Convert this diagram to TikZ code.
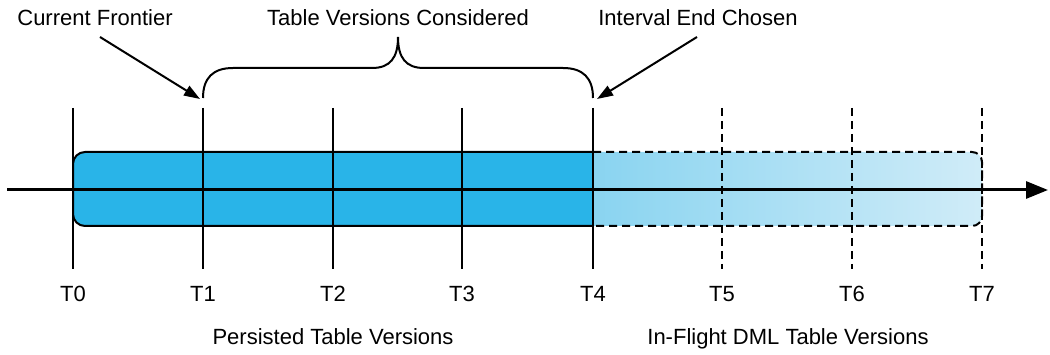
\documentclass[tikz,border=0pt]{standalone}
\usepackage{fontspec}
\setmainfont{Liberation Sans}
\usetikzlibrary{arrows.meta}
\definecolor{solidblue}{HTML}{29B4E8}
\definecolor{gradL}{HTML}{87D3F0}
\definecolor{gradR}{HTML}{D0ECF8}
\begin{document}
\begin{tikzpicture}[x=1pt,y=-1pt,
  lbl/.style={font=\fontsize{22}{26}\selectfont, inner sep=0pt, anchor=base},
  tickline/.style={line width=2pt},
  dtickline/.style={line width=2pt, dash pattern=on 8pt off 5pt},
  callout/.style={line width=2pt, -{Triangle[length=16pt,width=11pt]}},
  bracepath/.style={line width=2pt},
  axisline/.style={line width=3pt, -{Triangle[length=22pt,width=17pt]}}]
\useasboundingbox (0,0) rectangle (1050,355);

% in-flight (gradient) box
\shade[left color=gradL, right color=gradR, rounded corners=10pt] (580,152) rectangle (982,226);
% persisted box
\filldraw[fill=solidblue, draw=black, line width=2pt, rounded corners=12pt] (593,152) -- (73,152) -- (73,226) -- (593,226);
\draw[line width=2pt, dash pattern=on 8pt off 5pt, rounded corners=10pt] (593,152) -- (982,152) -- (982,226) -- (593,226);

% ticks
\foreach \i/\x in {0/73,1/203,2/333,3/462,4/593} {
  \coordinate (top\i) at (\x,108);
  \coordinate (bot\i) at (\x,269);
  \draw[tickline] (top\i) -- (bot\i);
  \node[lbl] (t\i) at (\x,302) {T\i};
}
\foreach \i/\x in {5/722,6/852,7/982} {
  \coordinate (top\i) at (\x,108);
  \coordinate (bot\i) at (\x,269);
  \draw[dtickline] (top\i) -- (bot\i);
  \node[lbl] (t\i) at (\x,302) {T\i};
}

% axis
\coordinate (axstart) at (7,190);
\coordinate (axend) at (1048,190);
\draw[axisline] (axstart) -- (axend);

% brace
\coordinate (brL) at (203,98);
\coordinate (brR) at (593,98);
\coordinate (brTip) at (398,37);
\draw[bracepath] (brL) .. controls (203,78) and (213,68) .. (233,68) -- (372,68)
  .. controls (390,68) and (398,58) .. (brTip)
  .. controls (398,58) and (406,68) .. (424,68) -- (563,68)
  .. controls (583,68) and (593,78) .. (brR);

% top labels
\node[lbl] (cf) at (95,26) {Current Frontier};
\node[lbl] (tvc) at (398,26) {Table Versions Considered};
\node[lbl] (iec) at (698,26) {Interval End Chosen};

\coordinate (cfstart) at (100,37);
\coordinate (cfend) at (200,99);
\coordinate (iecstart) at (697,37);
\coordinate (iecend) at (597,99);
\draw[callout] (cfstart) -- (cfend);
\draw[callout] (iecstart) -- (iecend);

% bottom labels
\node[lbl] (ptv) at (333,345) {Persisted Table Versions};
\node[lbl] (ifv) at (788,345) {In-Flight DML Table Versions};
\end{tikzpicture}
\end{document}
